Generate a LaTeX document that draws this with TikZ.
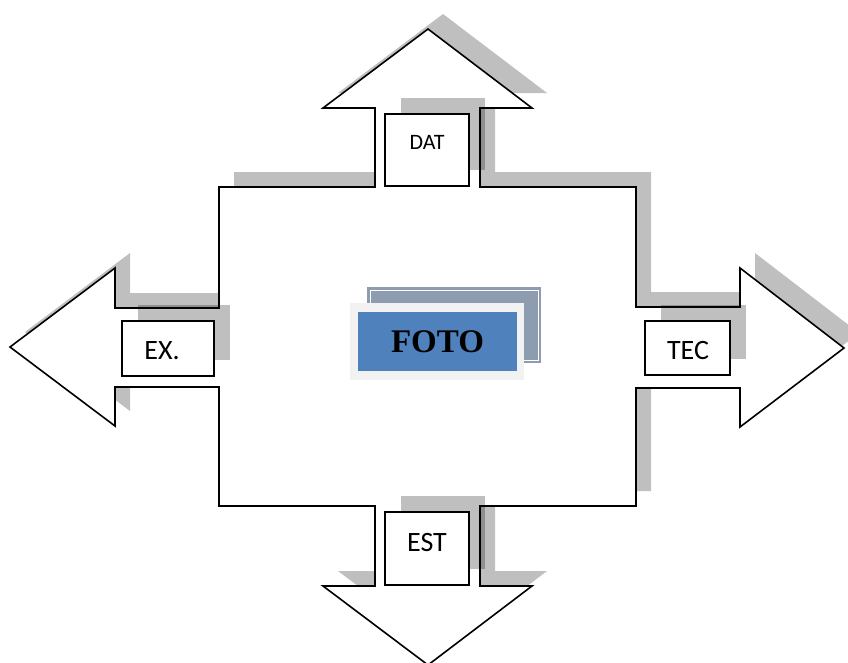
\documentclass[tikz,border=0pt]{standalone}
\usepackage{fontspec}
\setmainfont{Liberation Serif}
\newfontfamily\labelfont{Carlito}
\usetikzlibrary{shadows}
\definecolor{fotoblue}{HTML}{4F81BD}
\definecolor{fotoback}{HTML}{8E9CB0}
\definecolor{fotoframe}{HTML}{F2F2F2}
% four-way arrow outline, drawn with the given options
\newcommand\crossoutline[1]{%
  \path[#1] (428,29) -- (532,108) -- (480,108) -- (480,187) -- (636,187)
    -- (636,307) -- (740,307) -- (740,268) -- (844,348) -- (740,427)
    -- (740,388) -- (636,388) -- (636,506) -- (480,506) -- (480,586)
    -- (532,586) -- (428,665) -- (323,586) -- (375,586) -- (375,506)
    -- (219,506) -- (219,387) -- (115,387) -- (115,426) -- (10,347)
    -- (115,268) -- (115,308) -- (219,308) -- (219,187) -- (375,187)
    -- (375,108) -- (323,108) -- cycle;}
\begin{document}
\begin{tikzpicture}[x=1pt,y=-1pt,
  outline/.style={draw=black,line width=1.6pt,fill=white,line join=miter},
  castshade/.style={fill=black,fill opacity=0.25},
  tagbox/.style={draw=black,line width=1.6pt,fill=white,inner sep=0pt,
    general shadow={shadow xshift=16pt,shadow yshift=16pt,fill=black,opacity=0.25}},
  tagtext/.style={inner sep=0pt,font=\labelfont\fontsize{28}{30}\selectfont},
  smalltag/.style={inner sep=0pt,font=\labelfont\fontsize{22}{24}\selectfont}]
\useasboundingbox (0,0) rectangle (848,662);
\clip (0,0) rectangle (848,662);

% shadow of the cross, then the cross itself
\crossoutline{castshade,shift={(15,-15)}}
\crossoutline{outline}

% label boxes in the four shafts
\node[tagbox,minimum width=84pt,minimum height=72pt] (dat) at (427,150) {};
\node[tagbox,minimum width=92pt,minimum height=55pt] (ex) at (168,348.5) {};
\node[tagbox,minimum width=85pt,minimum height=54pt] (tec) at (687.5,348) {};
\node[tagbox,minimum width=84pt,minimum height=73pt] (est) at (427,548.5) {};
\node[smalltag] (datlbl) at (427,142) {DAT};
\node[tagtext] (exlbl) at (162,351) {EX.};
\node[tagtext] (teclbl) at (688,351) {TEC};
\node[tagtext] (estlbl) at (427,542) {EST};

% central picture frame
\fill[fotoback] (367,287) rectangle (541,363);
\draw[white,line width=0.8pt] (370,290) rectangle (538,360);
\fill[fotoframe] (350,303) rectangle (524,380);
\node[fill=fotoblue,minimum width=159pt,minimum height=59pt,inner sep=0pt,
  font=\bfseries\fontsize{33}{35}\selectfont] (foto) at (437.5,341.5) {FOTO};
\end{tikzpicture}
\end{document}
